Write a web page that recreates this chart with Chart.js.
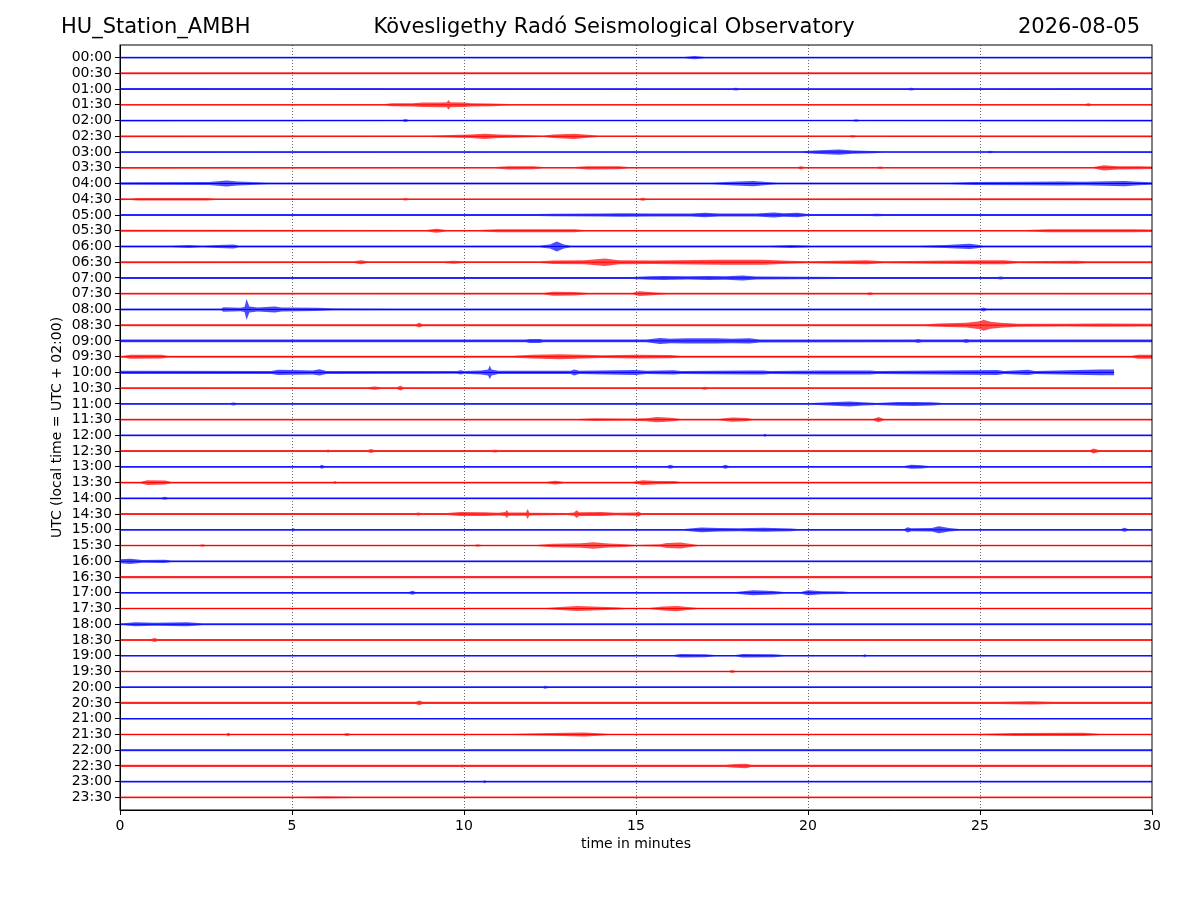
<!DOCTYPE html>
<html>
<head>
<meta charset="utf-8">
<title>HU_Station_AMBH helicorder</title>
<script src="https://cdn.jsdelivr.net/npm/chart.js@4.4.0/dist/chart.umd.min.js"></script>
<style>
  html, body { margin: 0; padding: 0; background: #fff; }
</style>
</head>
<body>
<canvas id="heli" width="1200" height="900"></canvas>
<script>
// header texts
var stationName = 'HU_Station_AMBH';
var observatory = 'Kövesligethy Radó Seismological Observatory';
var dayLabel = '2026-08-05';

// one trace per half hour, top to bottom
var rowLabels = ['00:00','00:30','01:00','01:30','02:00','02:30','03:00','03:30',
  '04:00','04:30','05:00','05:30','06:00','06:30','07:00','07:30',
  '08:00','08:30','09:00','09:30','10:00','10:30','11:00','11:30',
  '12:00','12:30','13:00','13:30','14:00','14:30','15:00','15:30',
  '16:00','16:30','17:00','17:30','18:00','18:30','19:00','19:30',
  '20:00','20:30','21:00','21:30','22:00','22:30','23:00','23:30'];

var minuteTicks = [0, 5, 10, 15, 20, 25, 30];

// background noise half-amplitude of each trace (counts)
var noise = [0.8,1.0,1.0,0.8,0.9,0.9,0.9,0.9,1.0,0.9,1.0,0.9,
  1.0,1.0,1.0,0.9,1.0,1.0,1.3,1.0,1.3,0.9,0.9,0.9,
  0.9,1.0,0.9,0.9,0.9,1.0,0.9,0.8,0.9,1.1,0.9,0.8,
  0.9,1.1,0.8,0.8,0.9,1.1,0.8,0.8,1.0,1.1,0.8,0.8];

// last minute with data in each trace (10:00 has a gap at the end)
var traceEnd = [30,30,30,30,30,30,30,30,30,30,30,30,
  30,30,30,30,30,30,30,30,28.9,30,30,30,
  30,30,30,30,30,30,30,30,30,30,30,30,
  30,30,30,30,30,30,30,30,30,30,30,30];

// envelope of the signal: [minute, half-amplitude in counts]
var bursts = [
  [[16.4,0.8],[16.7,1.6],[17.0,0.8]],
  [],
  [[17.8,0.9],[17.9,1.4],[18.0,0.9],[22.9,0.9],[23.0,1.4],[23.1,0.9]],
  [[7.7,0.8],[7.9,1.5],[8.5,1.6],[8.8,2.2],[9.3,2.4],[9.5,2.5],[9.55,4.8],[9.6,2.5],[10.0,2.2],[10.2,1.6],[10.8,1.4],[11.3,0.8],[28.05,0.8],[28.15,1.5],[28.25,0.8]],
  [[8.2,0.8],[8.3,1.5],[8.4,0.8],[21.3,0.8],[21.4,1.2],[21.5,0.8]],
  [[9.0,0.8],[9.6,1.3],[10.2,1.8],[10.6,2.6],[11.0,1.8],[11.7,1.2],[12.3,0.8],[12.6,1.8],[13.2,2.6],[13.6,1.5],[13.9,0.8],[21.2,0.8],[21.3,1.2],[21.4,0.8]],
  [[19.8,0.8],[20.2,1.6],[20.9,2.6],[21.3,1.6],[21.9,1.1],[22.2,0.8],[25.2,0.8],[25.3,1.2],[25.4,0.8]],
  [[10.9,0.8],[11.3,1.6],[12.0,1.5],[12.3,0.8],[13.2,0.8],[13.6,1.6],[14.5,1.5],[14.8,0.8],[19.7,0.8],[19.8,1.6],[19.9,0.8],[22.0,0.8],[22.1,1.2],[22.2,0.8],[28.3,0.8],[28.6,2.6],[29.0,1.6],[29.6,1.4],[30,1.3]],
  [[0,1.3],[2.6,1.5],[3.1,3.0],[3.4,2.0],[3.8,1.5],[4.3,1.0],[4.6,0.9],[17.2,0.9],[17.6,1.5],[18.4,2.6],[18.8,1.5],[19.1,0.9],[24.1,0.9],[24.8,1.6],[26.5,1.8],[27.3,2.0],[28.0,1.8],[29.2,2.6],[29.6,1.8],[30,1.2]],
  [[0.3,0.8],[0.5,1.3],[2.5,1.2],[2.8,0.8],[8.2,0.8],[8.3,1.3],[8.4,0.8],[15.1,0.8],[15.2,1.5],[15.3,0.8]],
  [[12.1,0.9],[12.6,1.2],[14.0,1.4],[14.6,1.8],[15.5,1.6],[16.6,1.6],[17.0,2.2],[17.4,1.6],[17.8,1.6],[18.5,1.4],[19.0,2.5],[19.3,1.7],[19.7,2.2],[20.0,1.0],[20.3,0.9],[21.8,0.9],[22.0,1.2],[22.2,0.9]],
  [[8.9,0.8],[9.2,2.0],[9.5,0.8],[10.4,0.8],[11.0,1.6],[12.0,1.4],[13.2,1.5],[13.5,0.8],[26.3,0.8],[27.0,1.5],[28.5,1.5],[29.4,1.5],[30,1.3]],
  [[1.5,0.9],[2.0,1.6],[2.4,0.9],[3.3,2.0],[3.45,0.9],[12.2,0.9],[12.5,2.0],[12.7,5.0],[12.9,2.0],[13.1,0.9],[18.9,0.9],[19.5,1.6],[20.1,0.9],[23.2,0.9],[24.0,1.6],[24.7,2.6],[25.1,1.0]],
  [[6.8,0.9],[7.0,2.0],[7.2,0.9],[9.4,0.9],[9.7,1.5],[10.0,0.9],[12.2,0.9],[12.6,1.8],[13.5,2.0],[14.1,3.8],[14.5,2.0],[15.5,1.8],[17.4,2.5],[18.1,2.5],[18.7,2.5],[19.4,1.4],[20.0,1.0],[21.7,2.0],[22.2,1.0],[25.1,2.0],[25.7,2.0],[26.1,1.0],[27.8,1.5],[28.1,1.0]],
  [[14.9,1.0],[15.4,1.8],[15.8,2.0],[16.5,1.6],[17.1,2.0],[17.6,1.8],[18.1,2.5],[18.5,1.5],[21.0,1.0],[25.5,1.0],[25.6,1.5],[25.7,1.0]],
  [[12.3,0.9],[12.6,2.0],[13.2,1.8],[13.6,0.9],[14.9,0.9],[15.1,2.4],[15.6,1.2],[15.9,0.9],[21.7,0.9],[21.8,1.5],[21.9,0.9]],
  [[2.95,1.0],[3.0,2.2],[3.5,1.8],[3.62,2.5],[3.68,10.5],[3.76,3.0],[4.0,2.0],[4.5,3.0],[4.7,2.0],[5.7,1.6],[6.2,1.1],[8.0,1.0],[25.0,1.0],[25.1,2.0],[25.2,1.0]],
  [[8.6,1.0],[8.7,2.4],[8.8,1.0],[23.4,1.0],[23.8,1.6],[24.6,2.4],[25.0,4.0],[25.1,5.5],[25.3,3.5],[25.6,2.5],[26.1,1.5],[27.5,1.4],[28.5,1.6],[30,1.4]],
  [[11.8,1.3],[11.9,2.0],[12.2,2.0],[12.3,1.3],[15.3,1.3],[15.7,3.0],[16.0,2.2],[16.5,2.6],[17.3,2.6],[17.8,2.2],[18.3,2.6],[18.6,1.5],[23.1,1.3],[23.2,2.0],[23.3,1.3],[24.5,1.3],[24.6,2.0],[24.7,1.3]],
  [[0.1,1.0],[0.3,2.0],[1.2,1.8],[1.4,1.0],[11.4,1.0],[12.0,1.8],[12.75,2.5],[13.5,1.8],[14.0,1.3],[15.0,1.8],[16.0,1.6],[16.3,1.0],[29.4,1.0],[29.6,2.0],[30,2.0]],
  [[0,1.6],[4.4,1.5],[4.6,2.6],[5.0,2.4],[5.6,2.0],[5.8,3.2],[6.0,1.5],[9.8,1.4],[9.9,2.2],[10.0,1.4],[10.5,2.0],[10.7,3.0],[10.75,6.8],[10.8,3.0],[11.0,1.6],[13.1,1.6],[13.2,3.0],[13.35,1.6],[15.0,2.5],[15.3,1.6],[16.1,2.2],[16.3,1.5],[18.3,2.0],[18.7,2.0],[18.9,1.5],[20.4,2.0],[21.8,2.0],[22.0,1.5],[25.5,2.5],[25.7,1.5],[26.4,2.6],[26.6,1.5],[28.5,2.8],[28.9,2.8]],
  [[7.2,0.9],[7.4,1.6],[7.6,0.9],[8.05,0.9],[8.15,2.4],[8.25,0.9],[16.9,0.9],[17.0,1.5],[17.1,0.9]],
  [[3.2,0.9],[3.3,1.5],[3.4,0.9],[20.1,0.9],[20.6,1.6],[21.2,2.5],[21.6,1.6],[22.0,1.0],[22.6,1.8],[23.1,2.0],[23.6,1.6],[23.9,0.9]],
  [[13.3,0.9],[13.8,1.4],[14.8,1.2],[15.3,1.5],[15.6,2.6],[16.0,1.8],[16.3,0.9],[17.4,0.9],[17.8,2.2],[18.2,1.6],[18.4,0.9],[21.9,0.9],[22.05,2.5],[22.2,0.9]],
  [[18.7,0.9],[18.75,1.5],[18.8,0.9]],
  [[6.0,1.0],[6.05,1.5],[6.1,1.0],[7.2,1.0],[7.3,2.0],[7.4,1.0],[10.8,1.0],[10.9,1.4],[11.0,1.0],[28.2,1.0],[28.3,2.5],[28.45,1.0]],
  [[5.8,0.9],[5.86,2.0],[5.95,0.9],[15.9,0.9],[16.0,2.0],[16.1,0.9],[17.5,0.9],[17.6,2.0],[17.7,0.9],[22.8,0.9],[23.0,2.0],[23.3,1.6],[23.5,0.9]],
  [[0.6,0.9],[0.8,2.4],[1.3,2.0],[1.5,0.9],[6.2,0.9],[6.25,1.5],[6.3,0.9],[12.4,0.9],[12.65,1.8],[12.9,0.9],[14.9,0.9],[15.2,2.4],[15.6,1.6],[16.1,1.5],[16.3,0.9]],
  [[1.2,0.9],[1.3,1.5],[1.4,0.9]],
  [[8.6,1.0],[8.67,1.5],[8.75,1.0],[9.5,1.0],[9.9,2.0],[10.6,1.8],[11.0,1.4],[11.2,2.0],[11.24,4.0],[11.3,1.6],[11.8,1.6],[11.85,5.0],[11.9,1.4],[13.0,1.0],[13.2,1.6],[13.27,3.8],[13.35,1.8],[14.0,2.0],[14.4,1.2],[15.0,1.6],[15.07,2.6],[15.15,1.0]],
  [[5.0,0.9],[5.04,1.5],[5.1,0.9],[16.4,0.9],[16.9,2.4],[17.4,1.8],[18.0,1.5],[18.7,2.0],[19.5,1.4],[19.7,0.9],[22.8,0.9],[22.9,2.6],[23.0,1.5],[23.6,1.8],[23.8,3.5],[24.1,1.8],[24.4,0.9],[29.1,0.9],[29.2,2.0],[29.3,0.9]],
  [[2.3,0.8],[2.4,1.2],[2.5,0.8],[10.3,0.8],[10.4,1.2],[10.5,0.8],[12.1,0.8],[12.6,1.8],[13.4,2.2],[13.76,3.2],[14.2,2.0],[14.7,1.4],[15.0,0.8],[15.7,1.2],[15.9,2.5],[16.3,3.0],[16.6,1.5],[16.8,0.8]],
  [[0,2.0],[0.3,2.6],[0.65,1.4],[1.3,1.6],[1.5,0.9]],
  [],
  [[8.4,0.9],[8.5,2.0],[8.6,0.9],[17.9,0.9],[18.4,2.5],[19.0,1.8],[19.3,0.9],[19.8,0.9],[20.0,2.5],[20.4,1.5],[21.0,1.2],[21.2,0.9]],
  [[12.4,0.8],[12.8,1.5],[13.3,2.4],[13.9,1.8],[14.4,1.2],[14.7,0.8],[15.4,0.8],[15.8,2.0],[16.2,2.6],[16.5,1.6],[16.8,0.8]],
  [[0.1,0.9],[0.44,2.0],[1.0,1.5],[1.94,2.0],[2.4,0.9]],
  [[0.9,1.1],[1.0,2.0],[1.1,1.1]],
  [[16.1,0.8],[16.3,1.8],[17.0,1.6],[17.3,0.8],[17.9,0.8],[18.1,1.8],[19.0,1.5],[19.3,0.8],[21.6,0.8],[21.65,1.5],[21.7,0.8]],
  [[17.7,0.8],[17.8,1.5],[17.9,0.8]],
  [[12.3,0.9],[12.35,1.5],[12.45,0.9]],
  [[8.6,1.1],[8.7,2.4],[8.8,1.1],[25.5,1.1],[26.5,1.6],[27.1,1.1]],
  [],
  [[3.1,0.8],[3.15,2.0],[3.2,0.8],[6.5,0.8],[6.6,1.5],[6.7,0.8],[11.4,0.8],[12.5,1.4],[13.5,2.0],[14.2,0.8],[25.0,0.8],[26.0,1.5],[28.0,1.6],[28.5,0.8]],
  [],
  [[9.9,1.1],[9.95,1.5],[10.0,1.1],[17.6,1.1],[17.9,1.8],[18.2,2.2],[18.35,1.1]],
  [[10.55,0.8],[10.6,1.5],[10.65,0.8]],
  [[5.2,0.8],[6.0,1.2],[6.8,0.8]]
];

var COUNTS_PER_ROW = 15.7;
var traceColors = ['0,0,255', '255,0,0'];

var datasets = [];
rowLabels.forEach(function (lab, i) {
  var col = traceColors[i % 2];
  var end = traceEnd[i];
  var env = [];
  if (!bursts[i].length || bursts[i][0][0] > 0) env.push([0, noise[i]]);
  bursts[i].forEach(function (p) { env.push(p); });
  if (env[env.length - 1][0] < end) env.push([end, noise[i]]);

  datasets.push({
    label: lab + ' up',
    data: env.map(function (p) { return {x: p[0], y: i - p[1] / COUNTS_PER_ROW}; }),
    borderColor: 'rgba(0,0,0,0)', borderWidth: 1, pointRadius: 0, fill: false
  });
  datasets.push({
    label: lab + ' down',
    data: env.map(function (p) { return {x: p[0], y: i + p[1] / COUNTS_PER_ROW}; }),
    borderColor: 'rgba(0,0,0,0)', borderWidth: 1, pointRadius: 0,
    fill: '-1', backgroundColor: 'rgba(' + col + ',0.7)'
  });
  datasets.push({
    label: lab,
    data: [{x: 0, y: i}, {x: end, y: i}],
    borderColor: 'rgb(' + col + ')', borderWidth: 1, pointRadius: 0, fill: false
  });
});

var headerAndFrame = {
  id: 'headerAndFrame',
  afterDraw: function (chart) {
    var ctx = chart.ctx, a = chart.chartArea;
    ctx.save();
    ctx.strokeStyle = '#000';
    ctx.lineWidth = 1;
    ctx.strokeRect(a.left, a.top, a.right - a.left, a.bottom - a.top);
    ctx.fillStyle = '#000';
    ctx.font = '21px "DejaVu Sans"';
    ctx.textBaseline = 'middle';
    ctx.textAlign = 'left';
    ctx.fillText(stationName, 61, 28);
    ctx.textAlign = 'center';
    ctx.fillText(observatory, 614, 28);
    ctx.textAlign = 'right';
    ctx.fillText(dayLabel, 1140, 28);
    ctx.restore();
  }
};

Chart.defaults.font.family = '"DejaVu Sans", sans-serif';
Chart.defaults.color = '#000';

new Chart(document.getElementById('heli').getContext('2d'), {
  type: 'line',
  data: {datasets: datasets},
  plugins: [headerAndFrame],
  options: {
    responsive: false,
    animation: false,
    events: [],
    layout: {padding: {left: 45, right: 48, top: 45, bottom: 43}},
    plugins: {legend: {display: false}, tooltip: {enabled: false}},
    scales: {
      x: {
        type: 'linear', min: 0, max: 30,
        afterFit: function (s) { s.height = 47; },
        afterBuildTicks: function (s) {
          s.ticks = minuteTicks.map(function (v) { return {value: v}; });
        },
        ticks: {font: {size: 14}, padding: 3, maxRotation: 0},
        grid: {
          color: function (c) {
            return (c.tick && c.tick.value > 0 && c.tick.value < 30) ? 'rgba(0,0,0,0.75)' : 'rgba(0,0,0,0)';
          },
          lineWidth: 0.8, borderDash: [1, 2], tickColor: '#000', tickLength: 5, tickWidth: 1
        },
        border: {color: '#000', dash: [1, 2]},
        title: {display: true, text: 'time in minutes', font: {size: 14}}
      },
      y: {
        type: 'linear', reverse: true, min: -0.8, max: 47.8,
        afterFit: function (s) { s.width = 75; },
        afterBuildTicks: function (s) {
          s.ticks = rowLabels.map(function (l, i) { return {value: i}; });
        },
        ticks: {
          autoSkip: false, font: {size: 14}, padding: 3,
          callback: function (v) { return rowLabels[v] || ''; }
        },
        grid: {drawOnChartArea: false, tickColor: '#000', tickLength: 5, tickWidth: 1},
        border: {color: '#000'},
        title: {display: true, text: 'UTC (local time = UTC + 02:00)', font: {size: 14}}
      }
    }
  }
});
</script>
</body>
</html>
